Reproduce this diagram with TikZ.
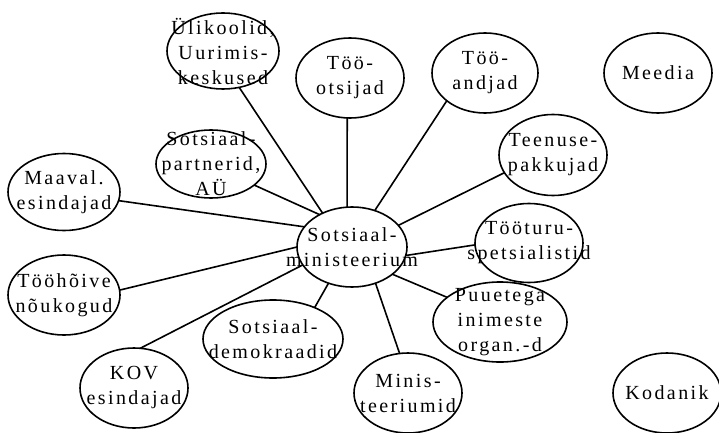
\documentclass[tikz,border=0pt]{standalone}
\usepackage{fontspec}
\setmainfont{Liberation Serif}[LetterSpace=12]
\usetikzlibrary{shapes.geometric}

\begin{document}
\begin{tikzpicture}[x=1pt,y=-1pt,line width=1.6pt,
    ell/.style={draw,ellipse,inner sep=0pt,outer sep=0pt},
    txt/.style={align=center,inner sep=0pt,font=\fontsize{20}{25}\selectfont}]
  \useasboundingbox (0,0) rectangle (719,433);
  % ellipses
  \node[ell,minimum width=110,minimum height=80] (sotsmin) at (352,247) {};
  \node[ell,minimum width=112,minimum height=76] (ulik) at (223,51) {};
  \node[ell,minimum width=108,minimum height=80] (otsij) at (350,78) {};
  \node[ell,minimum width=106,minimum height=80] (andj) at (485,73) {};
  \node[ell,minimum width=108,minimum height=80] (meedia) at (658,73) {};
  \node[ell,minimum width=108,minimum height=81] (teen) at (553,155) {};
  \node[ell,minimum width=110,minimum height=68] (partn) at (211,164) {};
  \node[ell,minimum width=112,minimum height=77] (maav) at (64,192) {};
  \node[ell,minimum width=112,minimum height=80] (tooh) at (64,295) {};
  \node[ell,minimum width=108,minimum height=80] (kov) at (134,388) {};
  \node[ell,minimum width=140,minimum height=78] (sdem) at (273,339) {};
  \node[ell,minimum width=108,minimum height=79] (turu) at (529,243) {};
  \node[ell,minimum width=134,minimum height=80] (puue) at (500,322) {};
  \node[ell,minimum width=108,minimum height=80] (minis) at (408,393) {};
  \node[ell,minimum width=108,minimum height=80] (kodan) at (667,393) {};
  % texts
  \node[txt] (sotsmin-t) at (sotsmin) {Sotsiaal-\\ministeerium};
  \node[txt] (ulik-t) at (ulik) {Ülikoolid,\\Uurimis-\\keskused};
  \node[txt] (otsij-t) at (otsij) {Töö-\\otsijad};
  \node[txt] (andj-t) at (andj) {Töö-\\andjad};
  \node[txt] (meedia-t) at (meedia) {Meedia};
  \node[txt] (teen-t) at (teen) {Teenuse-\\pakkujad};
  \node[txt] (partn-t) at (partn) {Sotsiaal-\\partnerid,\\AÜ};
  \node[txt] (maav-t) at (maav) {Maaval.\\esindajad};
  \node[txt] (tooh-t) at (tooh) {Tööhõive\\nõukogud};
  \node[txt] (kov-t) at (kov) {KOV\\esindajad};
  \node[txt] (sdem-t) at (sdem) {Sotsiaal-\\demokraadid};
  \node[txt] (turu-t) at (turu) {Tööturu-\\spetsialistid};
  \node[txt] (puue-t) at (puue) {Puuetega\\inimeste\\organ.-d};
  \node[txt] (minis-t) at (minis) {Minis-\\teeriumid};
  \node[txt] (kodan-t) at (kodan) {Kodanik};
  % connectors
  \draw (sotsmin.131) -- (ulik.294);
  \draw (sotsmin.97) -- (otsij.266);
  \draw (sotsmin.58) -- (andj.216);
  \draw (sotsmin.25) -- (teen.200);
  \draw (sotsmin.351) -- (turu.182);
  \draw (sotsmin.326) -- (puue.155);
  \draw (sotsmin.303) -- (minis.102);
  \draw (sotsmin.237) -- (sdem.37);
  \draw (sotsmin.200) -- (kov.81);
  \draw (sotsmin.180) -- (tooh.5);
  \draw (sotsmin.157) -- (maav.351);
  \draw (sotsmin.135) -- (partn.334);
\end{tikzpicture}
\end{document}
